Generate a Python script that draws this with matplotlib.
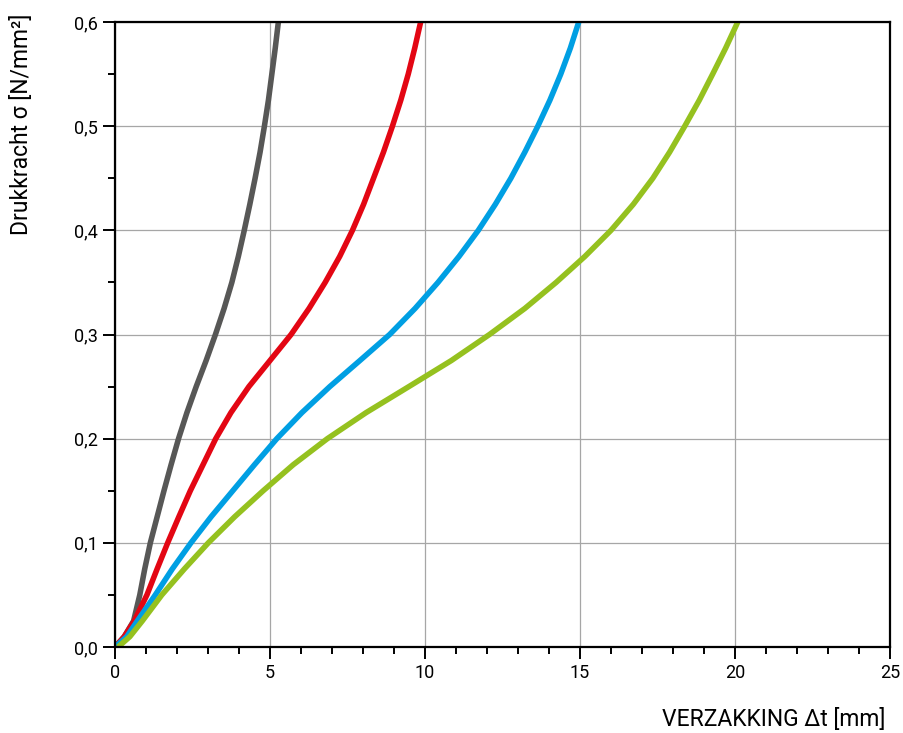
import matplotlib
matplotlib.use("Agg")
import matplotlib.pyplot as plt
from matplotlib.ticker import MultipleLocator

plt.rcParams['font.family'] = ['Roboto', 'DejaVu Sans']

# drukkracht (N/mm2), gelijk voor alle vier de krommen
sigma = [0, 0.01, 0.025, 0.05, 0.075, 0.1, 0.125, 0.15, 0.175, 0.2, 0.225, 0.25, 0.275,
         0.3, 0.325, 0.35, 0.375, 0.4, 0.425, 0.45, 0.475, 0.5, 0.525, 0.55, 0.575, 0.6]

# verzakking (mm)
grijs = [0, 0.3, 0.6, 0.8, 0.96, 1.14, 1.36, 1.58, 1.81, 2.05, 2.32, 2.62, 2.94,
         3.24, 3.52, 3.77, 3.98, 4.17, 4.35, 4.52, 4.68, 4.82, 4.95, 5.06, 5.17, 5.27]
rood = [0, 0.3, 0.62, 1.03, 1.36, 1.7, 2.06, 2.43, 2.84, 3.25, 3.74, 4.32, 5.0,
        5.68, 6.26, 6.78, 7.25, 7.66, 8.02, 8.34, 8.66, 8.95, 9.22, 9.46, 9.67, 9.86]
blauw = [0, 0.38, 0.72, 1.3, 1.85, 2.45, 3.1, 3.8, 4.5, 5.22, 6.03, 6.93, 7.9,
         8.86, 9.68, 10.42, 11.1, 11.72, 12.27, 12.77, 13.22, 13.64, 14.03, 14.38, 14.69, 14.96]
groen = [0.1, 0.48, 0.88, 1.51, 2.24, 3.01, 3.86, 4.78, 5.75, 6.85, 8.1, 9.48, 10.85,
         12.08, 13.22, 14.23, 15.16, 16.0, 16.72, 17.35, 17.89, 18.38, 18.85, 19.28, 19.7, 20.09]

x_ticks = [0, 5, 10, 15, 20, 25]
y_ticks = [0.0, 0.1, 0.2, 0.3, 0.4, 0.5, 0.6]
y_labels = ['0,0', '0,1', '0,2', '0,3', '0,4', '0,5', '0,6']

fig = plt.figure(figsize=(9.04, 7.33), dpi=100)
ax = fig.add_axes([0.1272, 0.1173, 0.8573, 0.8527])

ax.grid(True, which='major', color='#a6a6a6', lw=0.9)
ax.set_axisbelow(True)

for xs, kleur in [(grijs, '#575756'), (rood, '#e30613'), (blauw, '#009fe3'), (groen, '#95c11f')]:
    ax.plot(xs, sigma, color=kleur, lw=4.0, solid_joinstyle='round', solid_capstyle='butt')

ax.set_xlim(0, 25)
ax.set_ylim(0, 0.6)
ax.set_xticks(x_ticks)
ax.set_xticklabels([str(v) for v in x_ticks])
ax.set_yticks(y_ticks)
ax.set_yticklabels(y_labels)
ax.xaxis.set_minor_locator(MultipleLocator(1))
ax.yaxis.set_minor_locator(MultipleLocator(0.05))

ax.tick_params(which='major', direction='out', length=8.5, width=1.4, labelsize=13, pad=4, colors='black')
ax.tick_params(which='minor', direction='out', length=5, width=1.4)
for s in ax.spines.values():
    s.set_linewidth(1.6)
    s.set_color('black')

fig.text(885 / 904, 1 - 720 / 733, 'VERZAKKING Δt [mm]', ha='right', va='center', fontsize=16.5)
fig.text(22 / 904, 1 - 14 / 733, 'Drukkracht σ [N/mm²]', ha='center', va='top',
         rotation=90, fontsize=16.5)

fig.savefig('out.png', dpi=100)
